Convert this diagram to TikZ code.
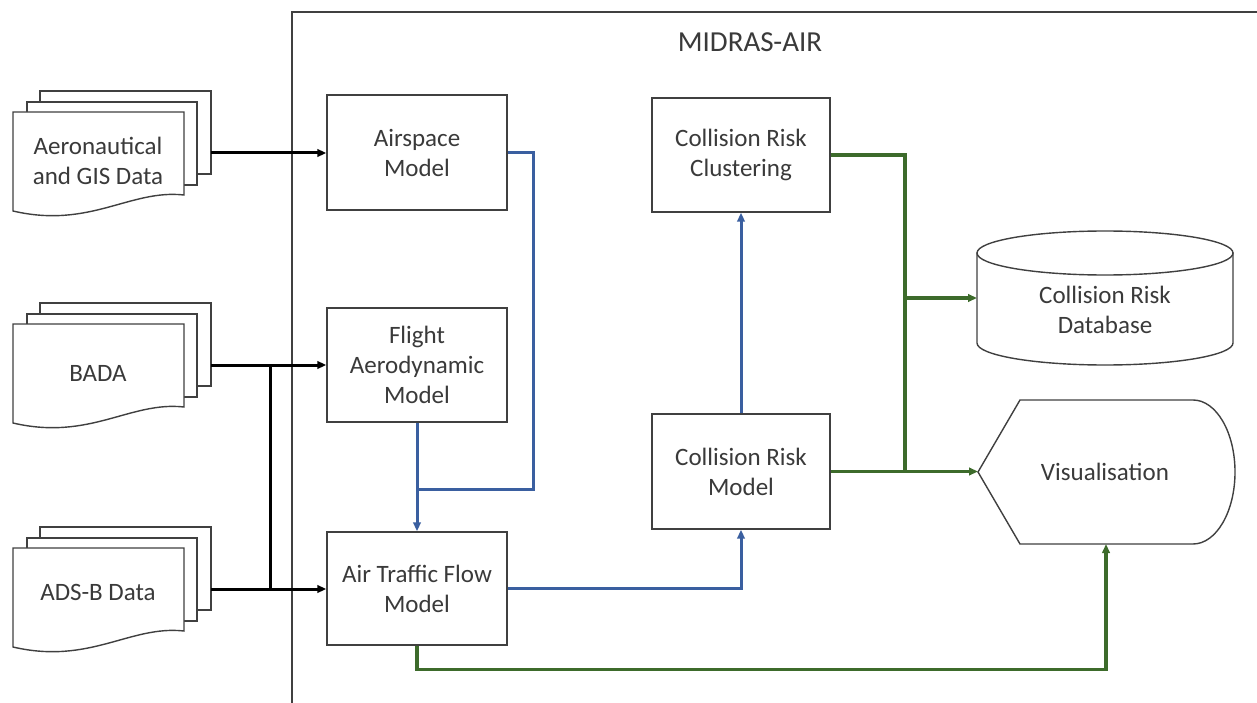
\documentclass[tikz,border=0pt]{standalone}
\usepackage{fontspec}
\setmainfont{Carlito}
\usetikzlibrary{arrows.meta}
\definecolor{txt}{HTML}{3A3A3A}
\definecolor{edge}{HTML}{404040}
\definecolor{cblue}{HTML}{3A5FA0}
\definecolor{cgreen}{HTML}{3D6B2B}
\tikzset{
  box/.style={draw=edge, line width=1.4pt, fill=white, minimum width=180pt, minimum height=115pt,
    align=center, text=txt, font=\fontsize{25}{30}\selectfont, inner sep=0pt},
  lbl/.style={align=center, text=txt, font=\fontsize{25}{30}\selectfont, inner sep=0pt},
  shp/.style={draw=edge, line width=1.4pt, fill=white},
  tip/.style={-{Triangle[length=9pt,width=7.5pt]}},
  blk/.style={draw=black, line width=3pt},
  blu/.style={draw=cblue, line width=3pt},
  grn/.style={draw=cgreen, line width=3.3pt},
}
\newcommand\docstack[4]{%
  \begin{scope}[shift={(0,#2)}]
    \draw[shp] (40,-21) rectangle (211,62);
    \draw[shp] (27,-10) rectangle (197,73);
    \draw[shp] (13,0) -- (184,0) -- (184,83) .. controls (130,77) and (90,117) .. (13,99) -- cycle;
    \node[lbl] (#1) at (98,#4) {#3};
    \coordinate (#1-out) at (211,41);
  \end{scope}}
\begin{document}
\begin{tikzpicture}[x=1pt,y=-1pt]
\useasboundingbox (0,0) rectangle (1257,703);
% frame
\draw[draw=edge, line width=1.4pt] (292,703) -- (292,12) -- (1257,12);
\node[lbl, font=\fontsize{29}{34}\selectfont] (title) at (750,42) {MIDRAS-AIR};

% data sources
\docstack{aero}{112}{Aeronautical\\and GIS Data}{49}
\docstack{bada}{324}{BADA}{49}
\docstack{adsb}{548}{ADS-B Data}{44}

% model boxes
\node[box] (airspace) at (417,152.5) {Airspace\\Model};
\node[box, minimum height=114pt] (flight) at (417,365) {Flight\\Aerodynamic\\Model};
\node[box, minimum height=113pt] (atf) at (417,588.5) {Air Traffic Flow\\Model};
\node[box, minimum width=178pt, minimum height=114pt] (crc) at (741,155) {Collision Risk\\Clustering};
\node[box, minimum width=178pt] (crm) at (741,471.5) {Collision Risk\\Model};

% database cylinder
\draw[shp] (977,253) -- (977,343) arc[start angle=180, end angle=360, x radius=128pt, y radius=22pt] -- (1233,253) -- cycle;
\draw[shp] (1105,253) ellipse [x radius=128pt, y radius=22pt];
\node[lbl] (db) at (1105,310) {Collision Risk\\Database};
\coordinate (db-w) at (977,298);

% visualisation display shape
\draw[shp] (978,472) -- (1020,400) -- (1193,400) arc[start angle=90, end angle=-90, x radius=42pt, y radius=72pt] -- (1020,544) -- cycle;
\node[lbl] (vis) at (1105,472) {Visualisation};
\coordinate (vis-w) at (978,472);
\coordinate (vis-s) at (1106,544);

% helper coordinates
\coordinate (jx) at (270,0);
\coordinate (gx) at (905,0);
\coordinate (merge) at (417,489);

% black connectors
\draw[blk, tip] (aero-out) -- (aero-out -| airspace.west);
\draw[blk, tip] (bada-out) -- (bada-out -| flight.west);
\draw[blk, tip] (adsb-out) -- (adsb-out -| atf.west);
\draw[blk] (bada-out -| jx) -- (adsb-out -| jx);

% blue connectors
\draw[blu] (airspace.east) -- ++(26,0) |- (merge);
\draw[blu, tip] (flight.south) -- (atf.north);
\draw[blu, tip] (atf.east) -| (crm.south);
\draw[blu, tip] (crm.north) -- (crc.south);

% green connectors
\draw[grn] (crc.east) -| (gx |- crm.east);
\draw[grn, tip] (crm.east) -- (crm.east -| vis-w);
\draw[grn, tip] (gx |- db-w) -- (db-w);
\draw[grn, tip] (atf.south) -- ++(0,24) -| (vis-s);
\end{tikzpicture}
\end{document}
